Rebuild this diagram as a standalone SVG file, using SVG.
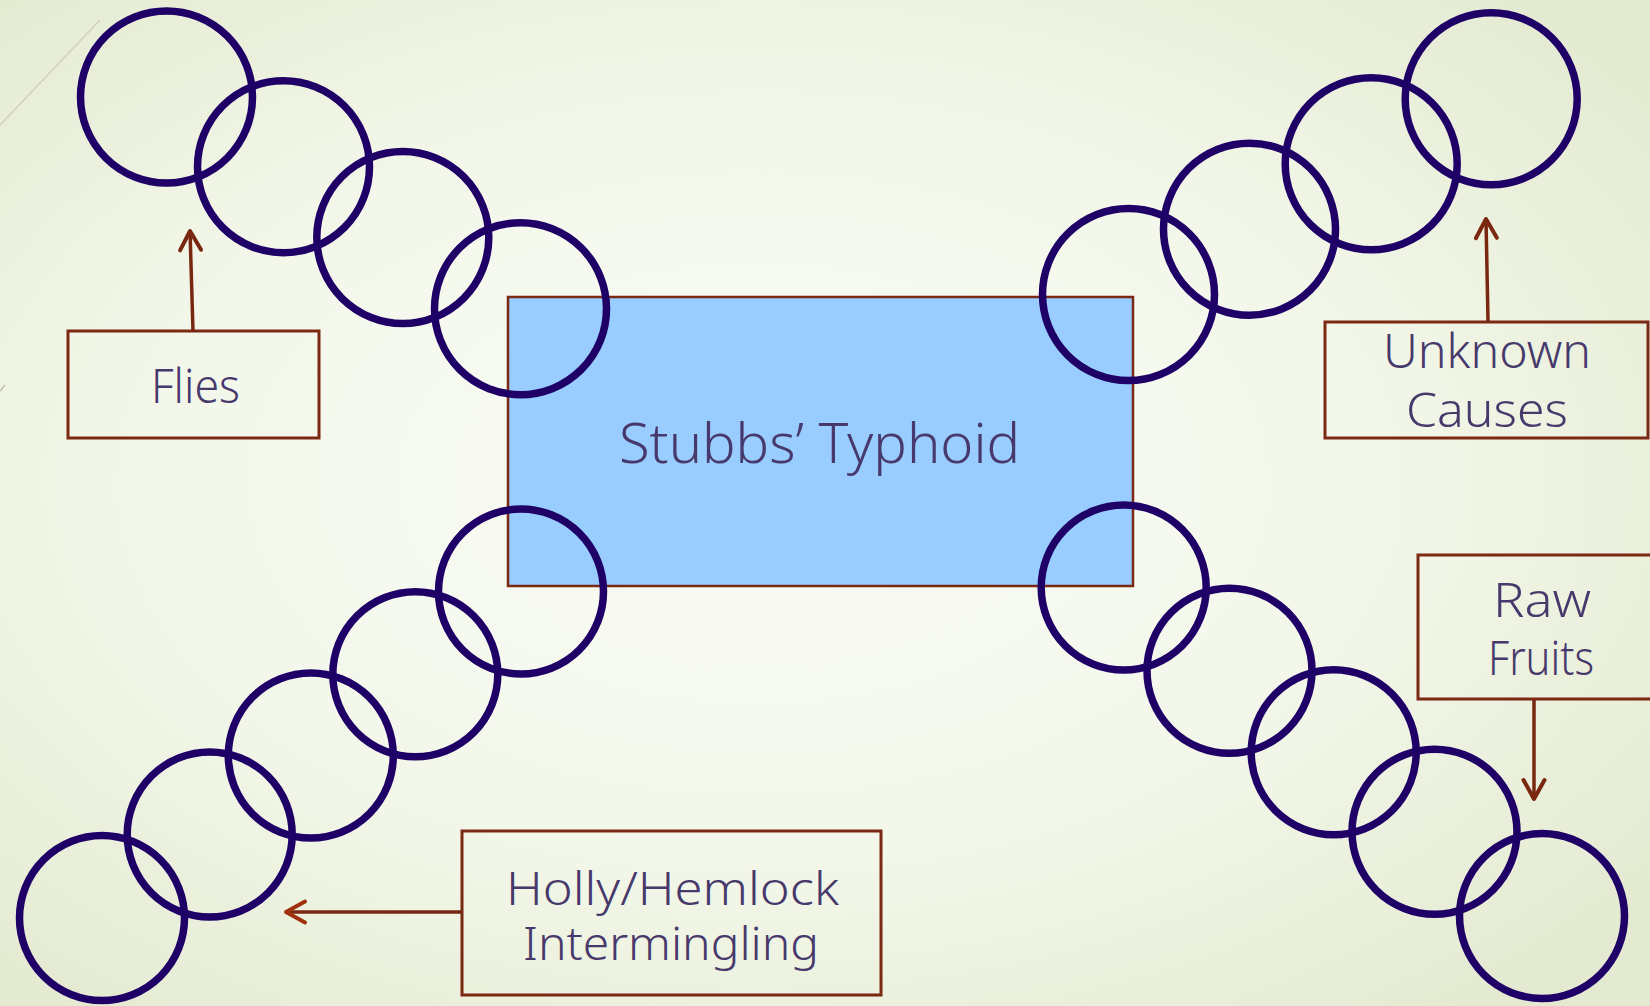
<svg xmlns="http://www.w3.org/2000/svg" width="1650" height="1006" viewBox="0 0 1650 1006">
<defs>
<radialGradient id="bg" cx="46%" cy="48%" r="68%">
<stop offset="0" stop-color="#FAFCF6"/>
<stop offset="0.55" stop-color="#F3F7EA"/>
<stop offset="1" stop-color="#E4EAD1"/>
</radialGradient>
<marker id="arrA" markerUnits="userSpaceOnUse" markerWidth="30" markerHeight="30" viewBox="-25 -15 30 30" refX="0" refY="0" orient="auto" overflow="visible">
<path d="M-19,-10.5 L0,0 L-19,10.5" fill="none" stroke="#7A2710" stroke-width="4" stroke-linecap="round" stroke-linejoin="round"/>
</marker>
<marker id="arrB" markerUnits="userSpaceOnUse" markerWidth="30" markerHeight="30" viewBox="-25 -15 30 30" refX="0" refY="0" orient="auto" overflow="visible">
<path d="M-19,-10.5 L0,0 L-19,10.5" fill="none" stroke="#A0310F" stroke-width="4" stroke-linecap="round" stroke-linejoin="round"/>
</marker>
</defs>
<style>
.ring{fill:none;stroke:#1E0066;stroke-width:7.5}
.box{fill:none;stroke:#7B2912;stroke-width:3}
.core{fill:#99CCFF;stroke:#7B2912;stroke-width:2.5}
.lbl{font-family:"Noto Sans","Liberation Sans",sans-serif;font-weight:300;fill:#47396B;text-anchor:middle}
.conn{fill:none;stroke:#7A2710;stroke-width:3.5}
</style>
<rect x="0" y="0" width="1650" height="1006" fill="url(#bg)"/>
<line x1="0" y1="125" x2="100" y2="20" stroke="#CDD1BE" stroke-width="1.5"/>
<line x1="0" y1="391" x2="5" y2="385" stroke="#B5B9A8" stroke-width="1.2"/>

<g id="node-stubbs">
<rect class="core" x="508" y="297" width="625" height="289"/>
<text class="lbl" x="819.5" y="463" font-size="56" textLength="401" lengthAdjust="spacingAndGlyphs">Stubbs’ Typhoid</text>
</g>

<g id="chain-top-left">
<circle class="ring" cx="166.5" cy="97" r="86"/>
<circle class="ring" cx="283.5" cy="166.7" r="86"/>
<circle class="ring" cx="402.8" cy="237.5" r="86"/>
<circle class="ring" cx="520.5" cy="308.7" r="86"/>
</g>
<g id="chain-top-right">
<circle class="ring" cx="1491.2" cy="98.7" r="86"/>
<circle class="ring" cx="1371.2" cy="163.7" r="86"/>
<circle class="ring" cx="1249.5" cy="229.2" r="86"/>
<circle class="ring" cx="1128.5" cy="294.5" r="86"/>
</g>
<g id="chain-bottom-left">
<circle class="ring" cx="521" cy="591.5" r="82.5"/>
<circle class="ring" cx="415.3" cy="674.2" r="82.5"/>
<circle class="ring" cx="310.8" cy="755.5" r="82.5"/>
<circle class="ring" cx="209.7" cy="834.5" r="82.5"/>
<circle class="ring" cx="102" cy="918" r="82.5"/>
</g>
<g id="chain-bottom-right">
<circle class="ring" cx="1123.7" cy="587.5" r="82.5"/>
<circle class="ring" cx="1229.5" cy="670.8" r="82.5"/>
<circle class="ring" cx="1333.7" cy="752.2" r="82.5"/>
<circle class="ring" cx="1434.5" cy="831.7" r="82.5"/>
<circle class="ring" cx="1542" cy="916" r="82.5"/>
</g>

<g id="node-flies">
<rect class="box" x="68" y="331" width="251" height="107"/>
<text class="lbl" x="195.5" y="403" font-size="48" textLength="89" lengthAdjust="spacingAndGlyphs">Flies</text>
</g>
<g id="node-unknown">
<rect class="box" x="1325" y="322" width="323" height="116"/>
<text class="lbl" x="1487" y="368" font-size="47" textLength="208" lengthAdjust="spacingAndGlyphs">Unknown</text>
<text class="lbl" x="1487" y="427" font-size="47" textLength="162" lengthAdjust="spacingAndGlyphs">Causes</text>
</g>
<g id="node-raw">
<rect class="box" x="1418" y="555" width="250" height="144"/>
<text class="lbl" x="1542" y="617" font-size="47" textLength="98" lengthAdjust="spacingAndGlyphs">Raw</text>
<text class="lbl" x="1541" y="675" font-size="47" textLength="106" lengthAdjust="spacingAndGlyphs">Fruits</text>
</g>
<g id="node-holly">
<rect class="box" x="462" y="831" width="419" height="164"/>
<text class="lbl" x="672.5" y="905" font-size="45" textLength="333" lengthAdjust="spacingAndGlyphs">Holly/Hemlock</text>
<text class="lbl" x="671" y="960" font-size="45" textLength="296" lengthAdjust="spacingAndGlyphs">Intermingling</text>
</g>

<g id="connectors">
<line class="conn" x1="193" y1="331" x2="190" y2="231" marker-end="url(#arrA)"/>
<line class="conn" x1="1488" y1="321" x2="1486" y2="219" marker-end="url(#arrA)"/>
<line class="conn" x1="1534" y1="699" x2="1534" y2="799" marker-end="url(#arrA)"/>
<line class="conn" x1="462" y1="912" x2="286" y2="912" stroke="#A0310F" marker-end="url(#arrB)"/>
</g>
</svg>
